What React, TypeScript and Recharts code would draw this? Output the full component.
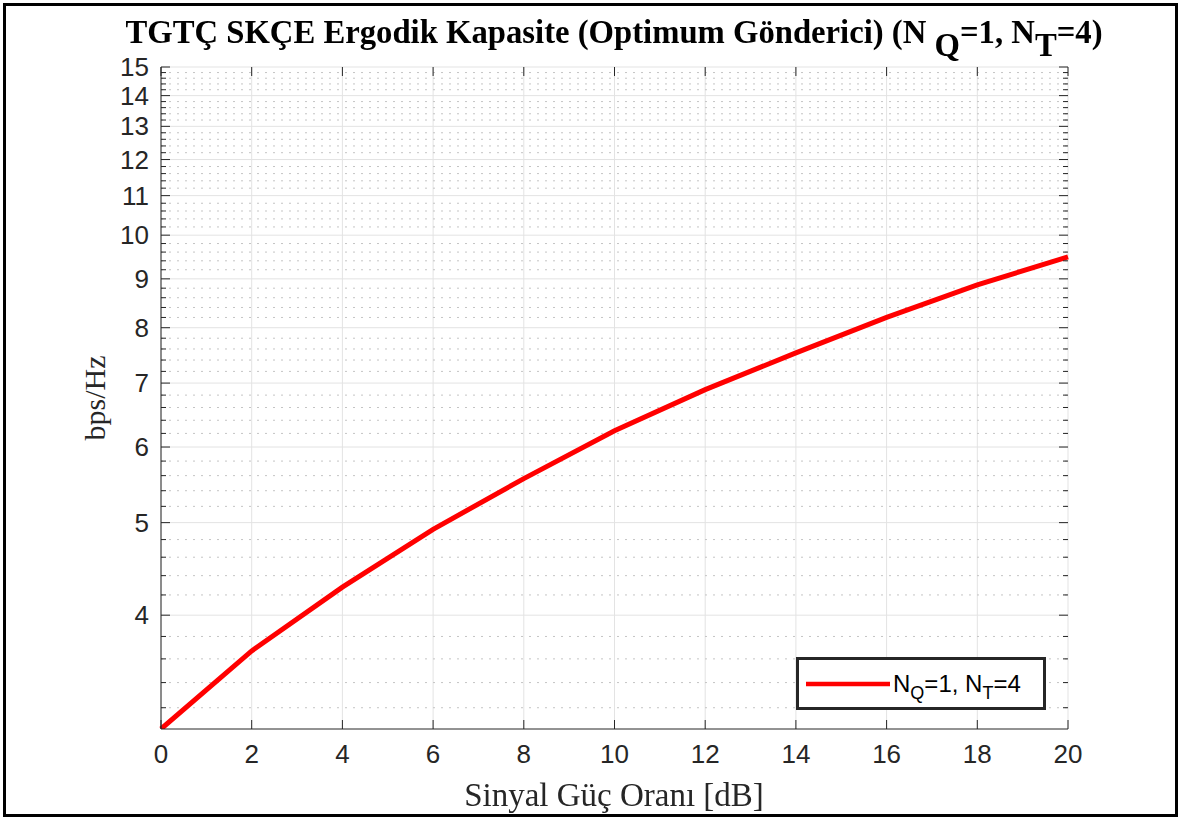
import { LineChart, Line, XAxis, YAxis, CartesianGrid, ReferenceLine } from 'recharts'

// SNR (dB) ve ergodik kapasite (bps/Hz)
const snrDb = [0, 2, 4, 6, 8, 10, 12, 14, 16, 18, 20]
const kapasite = [3.04, 3.67, 4.28, 4.92, 5.56, 6.24, 6.89, 7.53, 8.2, 8.87, 9.49]

const xTicks = [0, 2, 4, 6, 8, 10, 12, 14, 16, 18, 20]
const yMajor = [4, 5, 6, 7, 8, 9, 10, 11, 12, 13, 14, 15]
// log eksenin ara çizgileri: 3..15 arası her 0.2
const yMinor: number[] = []
for (let i = 3; i < 15; i++) for (let k = 1; k <= 4; k++) yMinor.push(+(i + k * 0.2).toFixed(1))

const veri = snrDb.map((x, i) => ({ x, c: kapasite[i] }))

const W = 1180
const H = 819
const PL = 161
const PR = 1068
const PT = 67
const PB = 729
const AX = '#262626'
const TICK_FONT = '"Liberation Sans", Arial, sans-serif'
const SERIF = '"Liberation Serif", "Times New Roman", serif'

function YTick({ y, payload }: any) {
  const v = payload.value
  const major = Number.isInteger(v)
  const len = major ? 9 : 5
  return (
    <g>
      <line x1={PL} x2={PL + len} y1={y} y2={y} stroke={AX} />
      <line x1={PR - len} x2={PR} y1={y} y2={y} stroke={AX} />
      {major && v >= 4 && (
        <text x={PL - 12} y={y} textAnchor="end" dominantBaseline="central" fontSize={26} fill={AX} fontFamily={TICK_FONT}>
          {v}
        </text>
      )}
    </g>
  )
}

function XTick({ x, payload }: any) {
  return (
    <g>
      <line x1={x} x2={x} y1={PB} y2={PB - 9} stroke={AX} />
      <line x1={x} x2={x} y1={PT} y2={PT + 9} stroke={AX} />
      <text x={x} y={PB + 25} textAnchor="middle" dominantBaseline="central" fontSize={26} fill={AX} fontFamily={TICK_FONT}>
        {payload.value}
      </text>
    </g>
  )
}

function Lejant() {
  return (
    <div
      style={{
        position: 'absolute',
        left: 796,
        top: 657,
        width: 250,
        height: 53,
        boxSizing: 'border-box',
        border: `3px solid ${AX}`,
        background: '#fff',
        display: 'flex',
        alignItems: 'center',
        fontFamily: TICK_FONT,
        fontSize: 24,
        color: '#000',
      }}
    >
      <svg width={92} height={10} style={{ marginLeft: 7 }}>
        <line x1={0} x2={84} y1={5} y2={5} stroke="#ff0000" strokeWidth={4.5} />
      </svg>
      <span style={{ marginLeft: -5, whiteSpace: 'nowrap' }}>
        N<span style={{ fontSize: 18, position: 'relative', top: 7 }}>Q</span>=1, N
        <span style={{ fontSize: 18, position: 'relative', top: 7 }}>T</span>=4
      </span>
    </div>
  )
}

export default function App() {
  return (
    <div style={{ position: 'fixed', left: 0, top: 0, width: W, height: H, background: '#fff' }}>
      <LineChart width={W} height={H} data={veri} margin={{ top: PT, right: W - PR, bottom: 60, left: PL - 60 }}>
        <CartesianGrid horizontal={false} vertical stroke="#e3e3e3" />
        {yMinor.filter((v) => !Number.isInteger(v)).map((v) => (
          <ReferenceLine key={'m' + v} y={v} stroke="#c4c4c4" strokeDasharray="2 6" />
        ))}
        {yMajor.map((v) => (
          <ReferenceLine key={'M' + v} y={v} stroke="#e3e3e3" />
        ))}
        <XAxis
          dataKey="x"
          type="number"
          domain={[0, 20]}
          ticks={xTicks}
          interval={0}
          height={30}
          stroke={AX}
          tickLine={false}
          tick={<XTick />}
        />
        <XAxis xAxisId="top" orientation="top" type="number" domain={[0, 20]} height={0} tick={false} tickLine={false} stroke={AX} />
        <YAxis
          type="number"
          scale="log"
          domain={[3.04, 15]}
          allowDataOverflow
          ticks={[...yMinor, ...yMajor].sort((a, b) => a - b)}
          interval={0}
          width={60}
          stroke={AX}
          tickLine={false}
          tick={<YTick />}
        />
        <YAxis yAxisId="right" orientation="right" type="number" domain={[0, 1]} width={0} tick={false} tickLine={false} stroke={AX} />
        <Line
          dataKey="c"
          name="N_Q=1, N_T=4"
          type="linear"
          stroke="#ff0000"
          strokeWidth={5}
          dot={false}
          isAnimationActive={false}
        />
      </LineChart>

      <Lejant />

      <div
        style={{
          position: 'absolute',
          left: 0,
          width: 1228,
          top: 14,
          textAlign: 'center',
          fontFamily: SERIF,
          fontWeight: 'bold',
          fontSize: 32.7,
          color: '#000',
          whiteSpace: 'nowrap',
        }}
      >
        TGTÇ SKÇE Ergodik Kapasite (Optimum Gönderici) (N{' '}
        <span style={{ position: 'relative', top: 13 }}>Q</span>=1, N
        <span style={{ position: 'relative', top: 13 }}>T</span>=4)
      </div>

      <div
        style={{
          position: 'absolute',
          left: 95 - 100,
          top: 398 - 18,
          width: 200,
          height: 36,
          lineHeight: '36px',
          textAlign: 'center',
          transform: 'rotate(-90deg)',
          fontFamily: SERIF,
          fontSize: 30,
          color: AX,
        }}
      >
        bps/Hz
      </div>

      <div
        style={{
          position: 'absolute',
          left: 0,
          width: 1228,
          top: 777,
          textAlign: 'center',
          fontFamily: SERIF,
          fontSize: 33,
          color: AX,
        }}
      >
        Sinyal Güç Oranı [dB]
      </div>

      <div
        style={{
          position: 'absolute',
          left: 3,
          top: 3,
          width: 1175,
          height: 814,
          boxSizing: 'border-box',
          border: '3px solid #000',
          pointerEvents: 'none',
        }}
      />
    </div>
  )
}
